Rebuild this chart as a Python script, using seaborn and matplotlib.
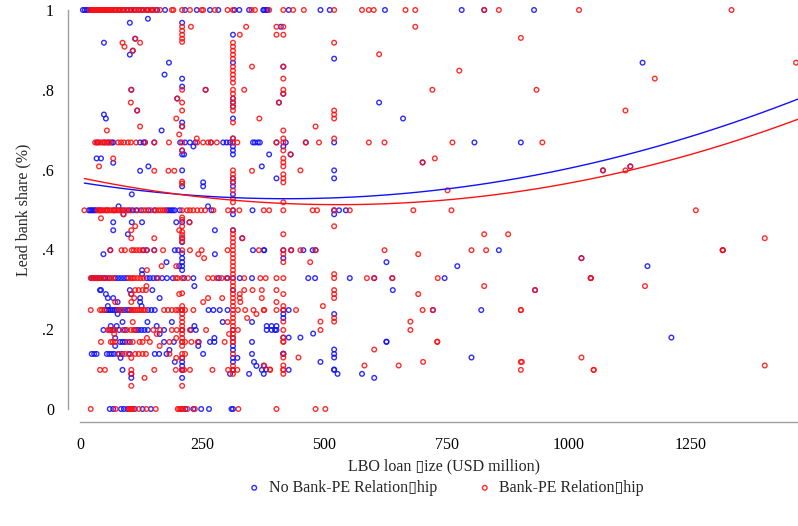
import numpy as np
import pandas as pd
import matplotlib
matplotlib.use("Agg")
import matplotlib.pyplot as plt
import seaborn as sns

# legend / axis text (the source file shows a missing-glyph box for "s")
label_blue = "No Bank-PE Relation\u25afhip"
label_red = "Bank-PE Relation\u25afhip"
x_title = "LBO loan \u25afize (USD million)"
y_title = "Lead bank share (%)"

x_ticks = [0, 250, 500, 750, 1000, 1250]
y_ticks = [0, 0.2, 0.4, 0.6, 0.8, 1.0]
y_ticklabels = ["0", ".2", ".4", ".6", ".8", "1"]

# ---- No Bank-PE relationship (blue): loan sizes sitting on common share levels
blue_at_100 = [6, 10, 14, 18, 22, 26, 30, 35, 40, 46, 52, 58, 64, 72, 80, 88, 96, 104, 112, 120,
               128, 138, 148, 158, 174, 215, 239, 266, 283, 316, 326, 346, 375, 377, 381, 384,
               427, 492, 511, 624, 781, 827, 929]
blue_at_067 = [36, 50, 58, 65, 68, 123, 130, 133, 152, 205, 215, 225, 236, 268, 293, 300, 307,
               313, 354, 358, 364, 368, 402, 421, 462, 520, 807, 902]
blue_at_050 = [18, 21, 24, 27, 30, 33, 40, 55, 70, 88, 100, 108, 115, 125, 140, 152, 178, 182,
               186, 190, 194, 204, 269, 313, 353, 520, 530, 544]
blue_at_040 = [62, 130, 137, 152, 194, 201, 354, 376, 377, 416, 432, 457, 476, 482, 857, 1315]
blue_at_033 = [24, 28, 32, 36, 41, 48, 52, 60, 72, 78, 84, 90, 96, 137, 143, 150, 157, 168, 178,
               190, 213, 232, 284, 302, 313, 327, 352, 467, 481, 552, 602, 639, 746, 1045]
blue_at_025 = [51, 55, 59, 63, 67, 71, 75, 80, 86, 92, 98, 102, 139, 146, 153, 207, 263, 273,
               286, 302, 416, 427, 722, 821]
blue_at_020 = [48, 62, 68, 80, 92, 115, 120, 126, 132, 139, 172, 209, 227, 237, 313, 382, 392,
               399, 402]
blue_at_017 = [82, 87, 92, 102, 172, 192, 243, 266, 275, 352, 627]
blue_at_014 = [24, 29, 34, 55, 60, 65, 70, 78, 86, 102, 153, 162, 177, 252, 352, 416, 520]
blue_at_010 = [87, 209, 313, 372, 427, 520]
blue_at_000 = [61, 68, 84, 90, 97, 112, 128, 145, 216, 232, 248, 264, 310, 313]

# shares stacked on the popular loan sizes
blue_x209 = [0.968, 0.828, 0.808, 0.718, 0.708, 0.648, 0.638, 0.598, 0.558, 0.468, 0.428,
             0.418, 0.39, 0.378, 0.368, 0.358, 0.348, 0.128, 0.118, 0.108, 0.098, 0.078]
blue_x313 = [0.938, 0.868, 0.778, 0.768, 0.758, 0.728, 0.678, 0.658, 0.648, 0.638, 0.578,
             0.568, 0.558, 0.538, 0.488, 0.448, 0.298, 0.178, 0.158, 0.148, 0.128, 0.118, 0.098]
blue_x416 = [0.858, 0.79, 0.658, 0.378, 0.238, 0.228, 0.179, 0.139]
blue_x520 = [0.878, 0.598, 0.578, 0.488, 0.238, 0.149, 0.129, 0.099]

blue_other = [(102, .968), (139, .978), (49, .918), (102, .888), (182, .868), (173, .838),
              (49, .738), (53, .728), (167, .698), (34, .628), (43, .628), (68, .617),
              (140, .608), (372, .608), (123, .597), (402, .578), (252, .568), (252, .558),
              (106, .538), (79, .508), (262, .508), (68, .468), (106, .468), (127, .468),
              (197, .468), (68, .448), (276, .448), (98, .438), (48, .388), (276, .388),
              (177, .368), (203, .358), (127, .348), (127, .338), (234, .308), (41, .298),
              (43, .298), (102, .298), (148, .298), (53, .288), (105, .288), (57, .278),
              (68, .278), (123, .278), (163, .278), (77, .268), (123, .268), (57, .258),
              (126, .258), (77, .238), (87, .218), (138, .218), (188, .218), (292, .218),
              (352, .218), (63, .208), (75, .208), (157, .208), (234, .208), (382, .208),
              (392, .208), (402, .208), (477, .189), (163, .188), (72, .178), (275, .178),
              (427, .179), (451, .179), (72, .158), (242, .158), (183, .148), (83, .128),
              (322, .128), (194, .118), (356, .118), (361, .108), (105, .088), (307, .088),
              (346, .088), (105, .078), (376, .109), (381, .099), (376, .088), (492, .118),
              (527, .088), (577, .088), (602, .078), (801, .129), (627, .169), (640, .298),
              (772, .358), (627, .368), (387, .638), (232, .658), (213, .638), (661, .728),
              (411, .958), (1151, .868), (1161, .358), (1210, .179), (1070, .598),
              (1126, .608), (1026, .378), (931, .298), (701, .618), (431, .638), (113, .928),
              (108, .898), (105, .80), (257, .80), (199, .778), (407, .768), (117, .748),
              (89, .488), (224, .468), (332, .428), (612, .768)]

# ---- Bank-PE relationship (red)
red_at_100 = [20, 24, 27, 30, 33, 36, 39, 42, 45, 48, 51, 54, 57, 60, 63, 66, 70, 74, 78, 82,
              86, 90, 95, 100, 105, 110, 115, 120, 125, 130, 135, 140, 145, 150, 155, 164, 188,
              191, 209, 225, 249, 252, 276, 302, 313, 351, 358, 387, 416, 436, 458, 520, 577,
              591, 601, 666, 686, 827, 857, 1021, 1333]
red_at_067 = [31, 34, 38, 42, 46, 50, 54, 58, 62, 78, 84, 90, 98, 104, 115, 133, 152, 182, 209,
              240, 252, 262, 268, 280, 313, 322, 402, 416, 462, 489, 591, 623, 762, 946]
red_at_050 = [9, 36, 39, 42, 45, 48, 52, 56, 60, 64, 68, 72, 76, 80, 84, 92, 96, 104, 118, 130,
              135, 145, 155, 160, 165, 170, 174, 209, 219, 225, 232, 240, 248, 256, 273, 303,
              313, 326, 376, 387, 416, 476, 485, 520, 552, 682, 760, 1260]
red_at_040 = [62, 85, 92, 106, 110, 116, 122, 128, 136, 152, 170, 209, 225, 249, 302, 313, 366,
              416, 432, 451, 482, 623, 801, 831, 1315]
red_at_033 = [22, 26, 30, 34, 38, 44, 50, 56, 64, 68, 100, 104, 108, 112, 118, 124, 130, 160,
              196, 200, 209, 221, 262, 272, 280, 290, 300, 313, 336, 369, 380, 402, 416, 520,
              587, 602, 639, 732, 1045]
red_at_025 = [22, 41, 45, 50, 78, 85, 102, 106, 110, 114, 118, 122, 126, 130, 133, 172, 180,
              188, 196, 201, 209, 215, 232, 313, 323, 338, 355, 376, 377, 402, 416, 442, 701,
              722, 902]
red_at_020 = [57, 60, 66, 72, 88, 96, 104, 110, 113, 150, 164, 188, 198, 209, 225, 258, 313,
              323, 416, 492, 676]
red_at_017 = [43, 63, 67, 72, 97, 108, 122, 128, 143, 183, 209, 215, 228, 241, 296, 313, 416,
              731]
red_at_014 = [80, 92, 99, 113, 120, 128, 135, 183, 209, 215, 313, 416]
red_at_010 = [41, 51, 105, 152, 196, 209, 213, 225, 271, 303, 313, 322, 389, 416, 902, 1051]
red_at_000 = [22, 73, 100, 102, 104, 106, 108, 120, 136, 155, 200, 203, 206, 209, 211, 220,
              235, 324, 402, 482, 502]

red_x209 = [0.958, 0.948, 0.938, 0.928, 0.92, 0.80, 0.768, 0.748, 0.708, 0.648, 0.57, 0.565,
            0.48, 0.474, 0.458, 0.444, 0.436, 0.428, 0.42, 0.29, 0.258, 0.248, 0.238, 0.228,
            0.218, 0.208, 0.198, 0.188, 0.178, 0.168, 0.158, 0.128, 0.058]
red_x313 = [0.918, 0.908, 0.898, 0.888, 0.878, 0.858, 0.848, 0.838, 0.828, 0.818, 0.80, 0.79,
            0.778, 0.768, 0.758, 0.748, 0.718, 0.678, 0.598, 0.588, 0.578, 0.568, 0.548, 0.528,
            0.518, 0.448, 0.438, 0.428, 0.418, 0.408, 0.388, 0.378, 0.368, 0.358, 0.348, 0.338,
            0.318, 0.308, 0.298, 0.288, 0.278, 0.268, 0.258, 0.238, 0.228, 0.218, 0.208, 0.188,
            0.178, 0.168, 0.108, 0.098, 0.088]
red_x416 = [0.958, 0.938, 0.858, 0.828, 0.80, 0.79, 0.698, 0.678, 0.648, 0.628, 0.618, 0.608,
            0.588, 0.578, 0.568, 0.518, 0.438, 0.388, 0.368, 0.288, 0.258, 0.219, 0.179, 0.169,
            0.129, 0.109, 0.099, 0.088]
red_x520 = [0.918, 0.748, 0.738, 0.728, 0.678, 0.458, 0.338, 0.298, 0.288, 0.278, 0.228, 0.219]

red_other = [(227, .958), (340, .958), (402, .958), (402, .938), (327, .938), (87, .918),
             (123, .918), (91, .908), (113, .928), (108, .898), (352, .858), (105, .80),
             (257, .80), (336, .80), (199, .778), (104, .768), (407, .768), (117, .748),
             (197, .728), (367, .728), (123, .708), (55, .698), (203, .688), (239, .678),
             (612, .889), (776, .848), (721, .80), (686, .958), (902, .93), (1465, .868),
             (1176, .828), (934, .80), (1116, .748), (482, .708), (431, .638), (701, .618),
             (726, .628), (451, .598), (752, .548), (68, .628), (39, .608), (152, .597),
             (181, .597), (193, .597), (352, .597), (1070, .598), (1116, .598), (1126, .608),
             (89, .488), (43, .478), (113, .458), (224, .468), (105, .448), (203, .448),
             (105, .428), (152, .428), (332, .428), (242, .388), (254, .378), (167, .358),
             (197, .358), (137, .348), (1401, .428), (1315, .398), (1026, .378), (1045, .328),
             (1156, .308), (931, .298), (902, .248), (136, .308), (113, .298), (120, .298),
             (128, .298), (135, .298), (336, .298), (353, .298), (372, .298), (402, .298),
             (105, .288), (203, .288), (327, .288), (111, .278), (262, .278), (291, .278),
             (327, .278), (372, .278), (72, .268), (105, .268), (252, .268), (328, .268),
             (402, .268), (361, .238), (342, .228), (108, .218), (302, .218), (70, .188),
             (157, .188), (305, .188), (137, .178), (197, .178), (163, .158), (105, .128),
             (197, .128), (377, .108), (105, .088), (132, .078), (105, .058), (692, .388),
             (692, .288), (827, .308), (827, .438), (876, .438), (471, .368), (497, .258),
             (492, .219), (676, .219), (731, .169), (602, .149), (447, .129), (702, .118),
             (904, .118), (582, .109), (652, .109), (389, .099), (1026, .129), (1051, .098),
             (1401, .109), (902, .118)]

# quadratic fit lines
fit_x = [9, 368, 500, 900, 1469]
fit_blue = [0.566, 0.527, 0.530, 0.578, 0.777]
fit_red = [0.578, 0.517, 0.513, 0.546, 0.726]


def collect(levels, columns, other):
    xs, ys = [], []
    for share, sizes in levels.items():
        xs += sizes
        ys += [share] * len(sizes)
    for size, shares in columns.items():
        xs += [size] * len(shares)
        ys += shares
    xs += [p[0] for p in other]
    ys += [p[1] for p in other]
    return pd.DataFrame({"size": xs, "share": ys})


blue_df = collect({1.0: blue_at_100, 0.668: blue_at_067, 0.498: blue_at_050, 0.398: blue_at_040,
                   0.328: blue_at_033, 0.248: blue_at_025, 0.198: blue_at_020, 0.168: blue_at_017,
                   0.138: blue_at_014, 0.098: blue_at_010, 0.0: blue_at_000},
                  {209: blue_x209, 313: blue_x313, 416: blue_x416, 520: blue_x520}, blue_other)
red_df = collect({1.0: red_at_100, 0.668: red_at_067, 0.498: red_at_050, 0.398: red_at_040,
                  0.328: red_at_033, 0.248: red_at_025, 0.198: red_at_020, 0.168: red_at_017,
                  0.138: red_at_014, 0.098: red_at_010, 0.0: red_at_000},
                 {209: red_x209, 313: red_x313, 416: red_x416, 520: red_x520}, red_other)
fit_df = pd.DataFrame({"size": fit_x, "blue": fit_blue, "red": fit_red})

sns.set_style("white")
plt.rcParams["font.family"] = ["Liberation Serif", "DejaVu Sans"]
plt.rcParams["font.size"] = 11.5

BLUE = "#1010ff"
RED = "#ff1010"
GREY = "#a0a0a0"

fig = plt.figure(figsize=(7.98, 5.26), dpi=100)
ax = fig.add_axes([68 / 798, 1 - 422 / 526, 1 - 68 / 798, (422 - 5) / 526])

handles = []
for df, col in [(blue_df, BLUE), (red_df, RED)]:
    sns.scatterplot(data=df, x="size", y="share", ax=ax, s=11, legend=False, color=col)
    pts = ax.collections[-1]
    pts.set_facecolor("none")
    pts.set_edgecolor(col)
    pts.set_linewidth(1.0)
    pts.set_alpha(0.88)
    handles.append(pts)

sns.regplot(data=fit_df, x="size", y="blue", order=2, ci=None, scatter=False, ax=ax,
            truncate=True, line_kws={"color": BLUE, "lw": 1.0})
sns.regplot(data=fit_df, x="size", y="red", order=2, ci=None, scatter=False, ax=ax,
            truncate=True, line_kws={"color": RED, "lw": 1.0})

ax.set_xlim(-24.5, 1469)
ax.set_ylim(-0.0326, 1.0125)

for side in ["top", "right"]:
    ax.spines[side].set_visible(False)
ax.spines["left"].set_bounds(0, 1)
ax.spines["bottom"].set_bounds(0, 1469)
for side in ["left", "bottom"]:
    ax.spines[side].set_color(GREY)
    ax.spines[side].set_linewidth(1.0)

ax.set_xticks(x_ticks)
ax.set_xticklabels([str(t) for t in x_ticks])
ax.set_yticks(y_ticks)
ax.set_yticklabels(y_ticklabels)
ax.tick_params(axis="both", direction="out", length=5, width=1.0, color=GREY,
               labelsize=11.5, labelcolor="black", pad=5)
ax.tick_params(axis="x", pad=6)

ax.set_xlabel(x_title, fontsize=11.5)
ax.set_ylabel(y_title, fontsize=11.5)
ax.xaxis.label.set_va("center")
ax.xaxis.set_label_coords((444 - 68) / 730, -(466 - 422) / 417)
ax.yaxis.label.set_va("center")
ax.yaxis.set_label_coords((23 - 68) / 730, (422 - 210) / 417)

leg = fig.legend(handles, [label_blue, label_red], loc="center", ncol=2, frameon=False,
                 bbox_to_anchor=(445 / 798, 1 - 488 / 526), fontsize=11.5,
                 columnspacing=2.5, handletextpad=0.4, markerscale=1.0, handlelength=1.0)

fig.savefig("out.png", dpi=100)
